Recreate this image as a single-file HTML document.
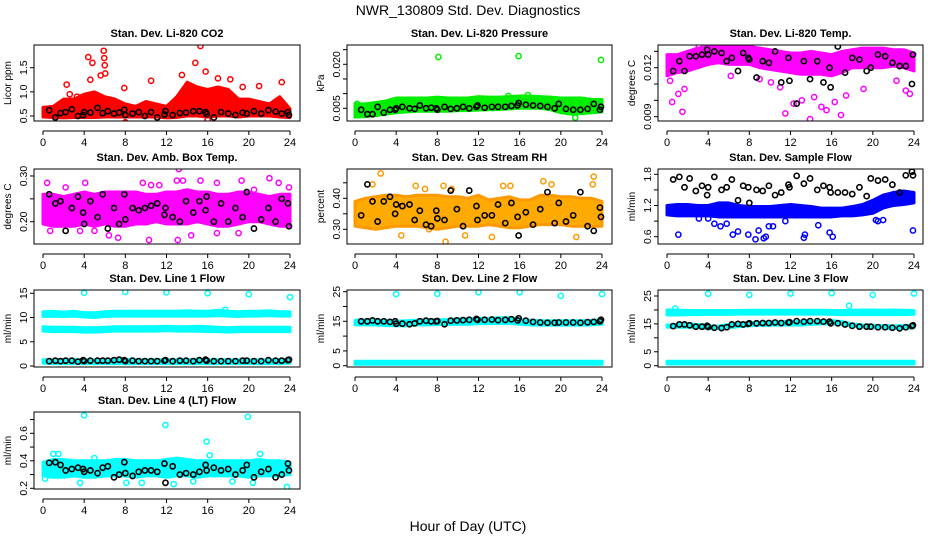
<!DOCTYPE html>
<html><head><meta charset="utf-8">
<style>
html,body{margin:0;padding:0;background:#fff;}
svg{display:block;font-family:"Liberation Sans",sans-serif;}
</style></head>
<body>
<svg id="chart" width="936" height="540" viewBox="0 0 936 540">
<text x="468" y="15" text-anchor="middle" font-size="14">NWR_130809  Std. Dev. Diagnostics</text>
<text x="468" y="531" text-anchor="middle" font-size="14">Hour of Day (UTC)</text>
</svg>
<script>
const hrs = [0.6,1.2,1.7,2.2,2.8,3.4,3.9,4.0,4.6,5.3,5.8,6.3,6.9,7.4,7.9,8.0,8.7,9.3,9.9,10.5,11.1,11.8,11.9,12.6,13.3,13.9,14.6,15.2,15.8,15.9,16.6,17.3,18.0,18.7,19.4,19.8,20.5,21.2,21.9,22.6,23.2,23.8,23.9];
const bandHours = [0,1,2,3,4,5,6,7,8,9,10,11,12,13,14,15,16,17,18,19,20,21,22,23,24];
const xTicks = [0,4,8,12,16,20,24];

// CO2
const co2Lo = [0.48,0.47,0.46,0.47,0.47,0.47,0.48,0.48,0.48,0.48,0.48,0.48,0.46,0.47,0.5,0.5,0.48,0.5,0.5,0.48,0.5,0.5,0.5,0.48,0.47];
const co2Hi = [0.68,0.7,0.85,0.85,0.95,1.0,0.9,0.85,0.75,0.7,0.8,0.75,0.7,0.9,1.2,1.1,1.05,1.1,1.05,0.85,0.85,0.8,0.75,0.9,0.65];
const co2OutX = [4.4,4.6,4.8,5.6,5.9,5.95,6.0,6.05,7.9,8.0,10.5,14.8,15.3,15.8,17.0,18.2,19.4,21.0,23.2,2.3,16.0,13.5,2.6,3.3];
const co2OutY = [1.72,1.25,1.6,1.34,1.85,1.7,1.55,1.38,1.08,0.37,1.23,1.6,1.95,1.42,1.28,1.26,1.1,1.12,1.2,1.15,0.42,1.35,0.95,0.9];
const co2Black = [0.62,0.47,0.56,0.58,0.64,0.5,0.52,0.58,0.57,0.67,0.56,0.6,0.55,0.57,0.63,0.52,0.55,0.58,0.5,0.58,0.47,0.53,0.6,0.52,0.56,0.57,0.6,0.6,0.58,0.54,0.47,0.58,0.55,0.52,0.57,0.55,0.6,0.55,0.62,0.59,0.55,0.58,0.52];
const co2Ticks = [0.5,1.0,1.5];

// Pressure
const prLo = [0.002,0.0022,0.0025,0.003,0.0035,0.0038,0.004,0.004,0.004,0.004,0.0042,0.0042,0.0044,0.0045,0.0046,0.0048,0.005,0.005,0.005,0.0045,0.0035,0.003,0.0032,0.0035,0.0038];
const prHi = [0.0065,0.0065,0.007,0.0075,0.0085,0.0085,0.0085,0.0085,0.0088,0.0085,0.0085,0.0085,0.009,0.0088,0.0088,0.009,0.0092,0.0092,0.009,0.0088,0.0085,0.0085,0.0085,0.008,0.008];
const prOutX = [8.1,15.9,23.9,16.8,21.4,0.2,14.9];
const prOutY = [0.0225,0.0228,0.0215,0.0095,0.0018,0.0065,0.0092];
const prBlack = [0.0045,0.003,0.003,0.0055,0.0035,0.0045,0.0045,0.005,0.0055,0.005,0.0048,0.006,0.005,0.0052,0.005,0.0045,0.0055,0.0048,0.005,0.0055,0.005,0.0055,0.006,0.0052,0.0055,0.0055,0.0055,0.0058,0.006,0.0068,0.0062,0.006,0.0058,0.0055,0.005,0.0065,0.0048,0.0045,0.0045,0.0048,0.0065,0.0045,0.0055];
const prTicks = [0.005,0.010,0.015,0.020,0.025];
const prLabels = ["0.005","","","0.020",""];

// Li-820 Temp
const ltLo = [0.0115,0.0117,0.0118,0.012,0.0122,0.0123,0.0122,0.0122,0.0122,0.012,0.0119,0.0118,0.0117,0.0116,0.0116,0.0116,0.0115,0.0117,0.012,0.012,0.012,0.012,0.0121,0.012,0.0118];
const ltHi = [0.0128,0.0128,0.013,0.0132,0.0133,0.0133,0.0133,0.0133,0.0133,0.0132,0.0131,0.013,0.0129,0.0129,0.013,0.0129,0.0128,0.013,0.0131,0.0132,0.0132,0.0132,0.0131,0.0131,0.0129];
const ltOutX = [0.5,1.5,1.1,1.7,3.1,11.5,12.3,13.1,13.9,14.3,15.0,15.5,16.3,16.9,17.4,19.1,22.3,23.2,23.6,10.1,9.0,6.2,0.3,11.0];
const ltOutY = [0.0099,0.0093,0.0104,0.0107,0.0133,0.0092,0.0098,0.0100,0.00885,0.0102,0.0096,0.0094,0.0099,0.0091,0.0103,0.0107,0.0112,0.0106,0.0104,0.0111,0.0113,0.0115,0.0112,0.0108];
const ltBlack = [0.0118,0.0124,0.0118,0.0127,0.0127,0.0128,0.0131,0.0128,0.013,0.0129,0.0124,0.0126,0.0118,0.0129,0.0126,0.0125,0.0114,0.0124,0.0123,0.0130,0.0111,0.0126,0.0112,0.0098,0.0124,0.0113,0.0124,0.0111,0.012,0.0108,0.0133,0.0117,0.0126,0.0125,0.0118,0.0120,0.0128,0.0127,0.0123,0.0121,0.0121,0.0110,0.0128];
const ltTicks = [0.009,0.010,0.011,0.012,0.013];
const ltLabels = ["0.009","","","0.012",""];

// Amb box temp
const abLo = [0.195,0.19,0.19,0.19,0.195,0.19,0.195,0.19,0.19,0.195,0.195,0.2,0.195,0.195,0.195,0.2,0.195,0.19,0.19,0.195,0.2,0.2,0.195,0.19,0.19];
const abHi = [0.26,0.26,0.255,0.26,0.265,0.26,0.265,0.265,0.265,0.265,0.26,0.26,0.265,0.265,0.27,0.265,0.265,0.26,0.26,0.265,0.265,0.26,0.255,0.26,0.26];
const abOutX = [0.4,0.7,2.2,4.1,5.0,6.4,7.3,9.7,10.5,11.3,13.0,13.2,13.6,15.3,16.9,19.3,20.5,22.0,22.9,23.9,10.3,13.1,3.6,16.9,19.0,14.4];
const abOutY = [0.285,0.18,0.275,0.285,0.18,0.17,0.165,0.285,0.28,0.28,0.29,0.315,0.29,0.29,0.285,0.29,0.27,0.295,0.285,0.275,0.16,0.16,0.18,0.175,0.175,0.17];
const abBlack = [0.26,0.24,0.245,0.18,0.23,0.255,0.22,0.195,0.245,0.21,0.26,0.185,0.23,0.195,0.26,0.205,0.23,0.225,0.23,0.235,0.24,0.215,0.23,0.21,0.2,0.245,0.22,0.245,0.225,0.255,0.2,0.24,0.2,0.23,0.21,0.265,0.185,0.205,0.23,0.2,0.25,0.24,0.19];
const abTicks = [0.20,0.25,0.30];
const abLabels = ["0.20","","0.30"];

// RH
const rhLo = [0.31,0.305,0.3,0.305,0.31,0.31,0.31,0.305,0.3,0.305,0.31,0.31,0.31,0.315,0.31,0.305,0.305,0.31,0.315,0.315,0.315,0.31,0.31,0.31,0.31];
const rhHi = [0.39,0.4,0.405,0.41,0.41,0.405,0.41,0.41,0.41,0.405,0.405,0.4,0.41,0.395,0.4,0.405,0.395,0.395,0.41,0.41,0.405,0.405,0.4,0.4,0.39];
const rhOutX = [1.7,2.5,5.9,6.8,8.6,8.8,9.4,10.7,14.4,15.1,18.3,19.1,23.2,23.1,13.3,21.5,4.5,7.2];
const rhOutY = [0.445,0.48,0.44,0.43,0.44,0.26,0.43,0.28,0.44,0.44,0.455,0.445,0.47,0.445,0.275,0.275,0.28,0.3];
const rhBlack = [0.345,0.445,0.39,0.325,0.39,0.405,0.35,0.38,0.375,0.38,0.33,0.36,0.315,0.31,0.36,0.335,0.33,0.425,0.365,0.31,0.425,0.375,0.33,0.345,0.345,0.38,0.32,0.385,0.34,0.28,0.355,0.315,0.365,0.42,0.32,0.385,0.325,0.345,0.42,0.31,0.295,0.37,0.34];
const rhTicks = [0.30,0.35,0.40,0.45];
const rhLabels = ["0.30","","0.40",""];

// Sample flow
const sfLo = [1.02,1.0,1.0,1.0,1.0,0.98,0.98,0.98,0.98,0.98,0.98,0.98,0.98,0.98,0.98,0.98,0.98,1.0,1.0,1.02,1.05,1.15,1.2,1.22,1.25];
const sfHi = [1.2,1.22,1.22,1.2,1.2,1.25,1.25,1.2,1.18,1.18,1.18,1.2,1.22,1.2,1.18,1.15,1.15,1.15,1.18,1.22,1.3,1.4,1.45,1.48,1.45];
const sfOutX = [1.1,4.6,5.2,6.4,6.9,7.9,8.6,8.9,9.4,9.6,9.9,10.3,13.3,13.4,14.7,15.8,16.1,20.3,20.5,21.0,23.9,4.0,3.1,5.8,11.5];
const sfOutY = [0.64,0.85,0.8,0.64,0.7,0.64,0.55,0.72,0.57,0.6,0.8,0.8,0.58,0.64,0.82,0.68,0.6,0.92,0.9,0.92,0.72,0.95,0.95,0.85,0.9];
const sfBlack = [1.7,1.75,1.55,1.72,1.48,1.58,1.4,1.55,1.75,1.5,1.55,1.7,1.3,1.58,1.55,1.25,1.5,1.48,1.58,1.4,1.45,1.6,1.55,1.77,1.62,1.72,1.5,1.58,1.55,1.45,1.45,1.45,1.42,1.55,1.38,1.72,1.68,1.7,1.6,1.45,1.78,1.85,1.78];
const sfTicks = [0.6,0.9,1.2,1.5,1.8];
const sfLabels = ["0.6","","1.2","","1.8"];

// Line 1
const l1aLo = [10.2,10.3,10.2,10.3,10.1,10.0,10.2,10.3,10.3,10.3,10.3,10.3,10.3,10.3,10.3,10.3,10.3,10.4,10.3,10.2,10.3,10.3,10.4,10.3,10.3];
const l1aHi = [11.2,11.3,11.1,11.3,11.0,11.0,11.2,11.3,11.3,11.3,11.3,11.3,11.3,11.3,11.4,11.3,11.3,11.5,11.3,11.2,11.3,11.3,11.4,11.2,11.2];
const l1bLo = [7.2,7.1,7.1,7.1,7.0,7.0,7.1,7.2,7.2,7.2,7.2,7.2,7.3,7.2,7.2,7.2,7.1,7.1,7.0,7.1,7.1,7.1,7.1,7.1,7.1];
const l1bHi = [8.1,8.0,8.0,8.0,7.9,7.9,8.0,8.1,8.1,8.1,8.1,8.1,8.2,8.1,8.1,8.2,8.1,8.0,7.9,8.0,8.0,8.0,8.0,8.0,8.0];
const l1cLo = [0.6,0.5,0.5,0.5,0.5,0.5,0.5,0.5,0.5,0.5,0.5,0.5,0.5,0.5,0.5,0.5,0.5,0.5,0.5,0.5,0.5,0.5,0.5,0.5,0.6];
const l1cHi = [1.3,1.3,1.3,1.3,1.3,1.3,1.3,1.4,1.4,1.3,1.3,1.3,1.3,1.3,1.3,1.4,1.3,1.3,1.3,1.3,1.3,1.3,1.3,1.3,1.4];
const l1OutX = [4,8,12,16,20,24,17.7];
const l1OutY = [15.1,15.3,15.2,15.0,14.8,14.2,11.6];
const l1Black = [1.0,1.1,1.0,1.1,1.1,0.9,1.2,1.0,1.1,1.1,1.1,1.1,1.2,1.3,1.2,1.0,1.1,1.0,1.0,1.0,1.0,1.1,1.2,1.0,1.1,1.1,1.0,1.2,1.3,1.1,1.0,1.0,1.0,1.0,1.1,1.1,1.0,1.0,1.2,1.1,1.1,1.2,1.3];
const l1Ticks = [0,5,10,15];

// Line 2
const l2aLo = [13.8,13.8,13.8,13.6,13.5,13.5,13.8,13.8,13.9,13.9,14.0,14.0,14.2,14.2,14.3,14.3,14.0,13.8,13.7,13.7,13.7,13.7,13.7,13.8,14.0];
const l2aHi = [15.3,15.5,15.5,15.2,15.0,15.2,15.4,15.5,15.5,15.6,15.8,15.8,16.0,16.0,16.2,16.2,15.8,15.4,15.2,15.2,15.2,15.2,15.2,15.3,15.6];
const l2bLo = [0.5,0.5,0.5,0.5,0.5,0.5,0.5,0.5,0.5,0.5,0.5,0.5,0.5,0.5,0.5,0.5,0.5,0.5,0.5,0.5,0.5,0.5,0.5,0.5,0.5];
const l2bHi = [1.5,1.5,1.5,1.5,1.5,1.5,1.5,1.5,1.5,1.5,1.5,1.5,1.5,1.5,1.5,1.5,1.5,1.5,1.5,1.5,1.5,1.5,1.5,1.5,1.5];
const l2OutX = [4,8,12,16,20,24];
const l2OutY = [24.2,24.3,24.8,24.8,23.6,24.2];
const l2Black = [15.0,15.0,15.3,15.0,15.0,14.8,15.0,14.2,14.2,14.0,14.3,15.0,15.2,15.0,15.0,15.1,14.0,15.2,15.3,15.4,15.5,15.8,15.5,15.5,15.6,15.4,15.5,15.7,15.3,16.0,15.2,14.8,14.6,14.5,14.5,14.6,14.6,14.6,14.5,14.7,14.8,15.0,15.5];
const l2Ticks = [0,5,10,15,20,25];
const l2Labels = ["0","5","","15","","25"];

// Line 3
const l3aLo = [18.2,18.2,18.3,18.3,18.4,18.4,18.4,18.5,18.5,18.5,18.5,18.5,18.5,18.5,18.5,18.5,18.4,18.3,18.3,18.3,18.3,18.3,18.3,18.3,18.4];
const l3aHi = [20.0,20.0,19.8,19.8,19.8,19.8,19.8,19.8,19.9,19.9,19.9,19.9,19.9,19.9,19.9,19.9,19.8,19.8,19.9,20.0,20.0,19.9,20.0,19.9,19.8];
const l3bLo = [13.8,13.8,13.8,13.6,13.3,13.3,13.6,14.0,14.3,14.5,14.5,14.6,14.6,14.6,14.8,15.0,15.0,14.8,14.2,13.8,13.6,13.5,13.3,13.3,13.6];
const l3bHi = [14.6,14.8,15.0,14.8,14.4,14.2,14.8,15.2,15.4,15.6,15.8,15.8,15.9,16.0,16.1,16.1,16.2,15.8,15.0,14.6,14.5,14.4,14.3,14.4,14.6];
const l3cLo = [0.6,0.6,0.6,0.6,0.6,0.6,0.6,0.6,0.6,0.6,0.6,0.6,0.6,0.6,0.6,0.6,0.6,0.6,0.6,0.6,0.6,0.6,0.6,0.6,0.6];
const l3cHi = [1.6,1.6,1.6,1.6,1.6,1.6,1.6,1.6,1.6,1.6,1.6,1.6,1.6,1.6,1.6,1.6,1.6,1.6,1.6,1.6,1.6,1.6,1.6,1.6,1.6];
const l3OutX = [4,8,12,16,20,24,17.7,0.8];
const l3OutY = [25.8,25.4,25.9,26.0,25.4,25.9,21.5,20.5];
const l3Black = [14.2,14.8,14.8,14.5,14.0,14.0,14.3,13.9,13.6,13.5,13.8,14.8,15.0,14.8,15.0,15.2,15.2,15.3,15.3,15.5,15.3,15.5,15.6,16.0,15.8,16.0,16.0,15.8,15.8,15.2,15.2,14.8,14.3,14.0,14.0,14.0,13.8,13.8,13.6,13.4,13.8,14.2,14.5];
const l3Ticks = [0,5,10,15,20,25];
const l3Labels = ["0","5","","15","","25"];

// Line 4
const l4Lo = [0.29,0.28,0.28,0.29,0.28,0.28,0.29,0.29,0.29,0.28,0.29,0.29,0.28,0.29,0.29,0.28,0.29,0.29,0.29,0.29,0.28,0.29,0.29,0.29,0.3];
const l4Hi = [0.39,0.41,0.41,0.4,0.4,0.4,0.4,0.41,0.41,0.4,0.4,0.4,0.41,0.42,0.41,0.4,0.4,0.4,0.4,0.4,0.4,0.41,0.4,0.4,0.39];
const l4OutX = [4.0,11.9,15.9,19.9,23.7,1.0,1.5,3.6,8.1,9.6,12.7,14.6,16.2,18.4,20.4,21.1,0.2,5.0];
const l4OutY = [0.73,0.66,0.54,0.72,0.21,0.45,0.45,0.24,0.24,0.24,0.23,0.25,0.44,0.25,0.24,0.45,0.27,0.42];
const l4Black = [0.385,0.39,0.37,0.33,0.34,0.35,0.34,0.32,0.33,0.31,0.35,0.36,0.28,0.3,0.39,0.31,0.29,0.32,0.33,0.33,0.32,0.38,0.24,0.36,0.3,0.31,0.3,0.32,0.37,0.33,0.35,0.33,0.34,0.3,0.33,0.37,0.28,0.32,0.34,0.28,0.3,0.38,0.33];
const l4Ticks = [0.2,0.3,0.4,0.5,0.6,0.7];
const l4Labels = ["0.2","","0.4","","0.6",""];

const NS = "http://www.w3.org/2000/svg";
const svg = document.getElementById('chart');
function el(tag, attrs, parent){ const e=document.createElementNS(NS,tag); for(const k in attrs) e.setAttribute(k,attrs[k]); (parent||svg).appendChild(e); return e; }

const cols = [{l:34,r:300,x0:43,x24:290},{l:347,r:612,x0:355,x24:602},{l:658,r:923,x0:667,x24:914}];
const rows = [{t:45,b:121},{t:169,b:244},{t:290,b:367},{t:412,b:489}];

function panel(o){
  const c=cols[o.col], r=rows[o.row];
  const g=el('g',{});
  
  
  const xs=h=>c.x0+(c.x24-c.x0)*h/24;
  const ys=v=>o.p1+(v-o.v1)*(o.p2-o.p1)/(o.v2-o.v1);
  const cp=el('clipPath',{id:'cp'+o.name},g);
  el('rect',{x:c.l,y:r.t,width:c.r-c.l,height:r.b-r.t},cp);
  const pg=el('g',{'clip-path':'url(#cp'+o.name+')'},g);
  (o.bands||[]).forEach(b=>{
    let pts=bandHours.map((h,i)=>xs(h)+','+ys(b[1][i]));
    pts=pts.concat(bandHours.slice().reverse().map((h,j)=>{const i=bandHours.length-1-j;return xs(h)+','+ys(b[0][i]);}));
    const p=el('polygon',{points:pts.join(' '),fill:o.fill||o.color,stroke:o.color,'stroke-width':3,'stroke-linejoin':'round'},pg);
    
    
  });
  (o.outX||[]).forEach((h,i)=>{
    const ci=el('circle',{cx:xs(h),cy:ys(o.outY[i]),r:2.6,fill:'none',stroke:o.color,'stroke-width':1.5},pg);
    
    
  });
  (o.black||[]).forEach((v,i)=>{
    const ci=el('circle',{cx:xs(hrs[i]),cy:ys(v),r:2.6,fill:'none',stroke:'#000','stroke-width':1.6},pg);
    
    
  });
  const box=el('rect',{x:c.l,y:r.t,width:c.r-c.l,height:r.b-r.t,fill:'none',stroke:'#000','stroke-width':1},g);
  
  
  const t=el('text',{x:(c.l+c.r)/2,y:r.t-8,'text-anchor':'middle','font-size':11,'font-weight':'bold'},g);
  t.textContent=o.title;
  
  
  // x axis
  el('line',{x1:xs(0),x2:xs(24),y1:r.b+10,y2:r.b+10,stroke:'#000'},g);
  xTicks.forEach(h=>{
    el('line',{x1:xs(h),x2:xs(h),y1:r.b+10,y2:r.b+14,stroke:'#000'},g);
    const tx=el('text',{x:xs(h),y:r.b+25,'text-anchor':'middle','font-size':11},g);
    tx.textContent=h;
    
    
  });
  // y axis (on box edge)
  const ax=c.l;
  o.ticks.forEach((v,i)=>{
    const y=ys(v);
    if(y<r.t-1||y>r.b+1) return;
    el('line',{x1:ax-4,x2:ax,y1:y,y2:y,stroke:'#000'},g);
    const lab=o.labels?o.labels[i]:String(v);
    if(lab){
      const tx=el('text',{x:0,y:0,'text-anchor':'middle','font-size':10.5,transform:`translate(${ax-7},${y}) rotate(-90)`},g);
      tx.textContent=lab;
      
      
    }
  });
  const yl=el('text',{x:0,y:0,'text-anchor':'middle','font-size':10,transform:`translate(${c.l-23},${(r.t+r.b)/2}) rotate(-90)`},g);
  yl.textContent=o.ylab;
  
  
}

panel({name:'panel-co2',col:0,row:0,title:'Stan. Dev. Li-820 CO2',ylab:'Licor ppm',color:'#ff0000',v1:0.5,p1:116,v2:1.5,p2:67.7,ticks:co2Ticks,labels:["0.5","1.0","1.5"],bands:[[co2Lo,co2Hi]],outX:co2OutX,outY:co2OutY,black:co2Black});
panel({name:'panel-pressure',col:1,row:0,title:'Stan. Dev. Li-820 Pressure',ylab:'kPa',color:'#00ee00',v1:0.005,p1:108.3,v2:0.020,p2:64.3,ticks:prTicks,labels:prLabels,bands:[[prLo,prHi]],outX:prOutX,outY:prOutY,black:prBlack});
panel({name:'panel-li-temp',col:2,row:0,title:'Stan. Dev. Li-820 Temp.',ylab:'degrees C',color:'#ff00ff',v1:0.009,p1:116.7,v2:0.012,p2:67.7,ticks:ltTicks,labels:ltLabels,bands:[[ltLo,ltHi]],outX:ltOutX,outY:ltOutY,black:ltBlack});
panel({name:'panel-amb-box',col:0,row:1,title:'Stan. Dev. Amb. Box Temp.',ylab:'degrees C',color:'#ff00ff',v1:0.20,p1:221.7,v2:0.30,p2:176,ticks:abTicks,labels:abLabels,bands:[[abLo,abHi]],outX:abOutX,outY:abOutY,black:abBlack});
panel({name:'panel-rh',col:1,row:1,title:'Stan. Dev. Gas Stream RH',ylab:'percent',color:'#ff9900',fill:'#ffaa00',v1:0.30,p1:229.3,v2:0.40,p2:198.3,ticks:rhTicks,labels:rhLabels,bands:[[rhLo,rhHi]],outX:rhOutX,outY:rhOutY,black:rhBlack});
panel({name:'panel-sample-flow',col:2,row:1,title:'Stan. Dev. Sample Flow',ylab:'ml/min',color:'#0000ff',v1:0.6,p1:236.7,v2:1.8,p2:174.3,ticks:sfTicks,labels:sfLabels,bands:[[sfLo,sfHi]],outX:sfOutX,outY:sfOutY,black:sfBlack});
panel({name:'panel-line1',col:0,row:2,title:'Stan. Dev. Line 1 Flow',ylab:'ml/min',color:'#00ffff',v1:0,p1:366,v2:15,p2:293.3,ticks:l1Ticks,bands:[[l1aLo,l1aHi],[l1bLo,l1bHi],[l1cLo,l1cHi]],outX:l1OutX,outY:l1OutY,black:l1Black});
panel({name:'panel-line2',col:1,row:2,title:'Stan. Dev. Line 2 Flow',ylab:'ml/min',color:'#00ffff',v1:0,p1:365.7,v2:25,p2:291.7,ticks:l2Ticks,labels:l2Labels,bands:[[l2aLo,l2aHi],[l2bLo,l2bHi]],outX:l2OutX,outY:l2OutY,black:l2Black});
panel({name:'panel-line3',col:2,row:2,title:'Stan. Dev. Line 3 Flow',ylab:'ml/min',color:'#00ffff',v1:0,p1:365.7,v2:25,p2:296,ticks:l3Ticks,labels:l3Labels,bands:[[l3aLo,l3aHi],[l3bLo,l3bHi],[l3cLo,l3cHi]],outX:l3OutX,outY:l3OutY,black:l3Black});
panel({name:'panel-line4',col:0,row:3,title:'Stan. Dev. Line 4 (LT) Flow',ylab:'ml/min',color:'#00ffff',v1:0.2,p1:488.3,v2:0.6,p2:433.3,ticks:l4Ticks,labels:l4Labels,bands:[[l4Lo,l4Hi]],outX:l4OutX,outY:l4OutY,black:l4Black});
</script>
</body></html>
